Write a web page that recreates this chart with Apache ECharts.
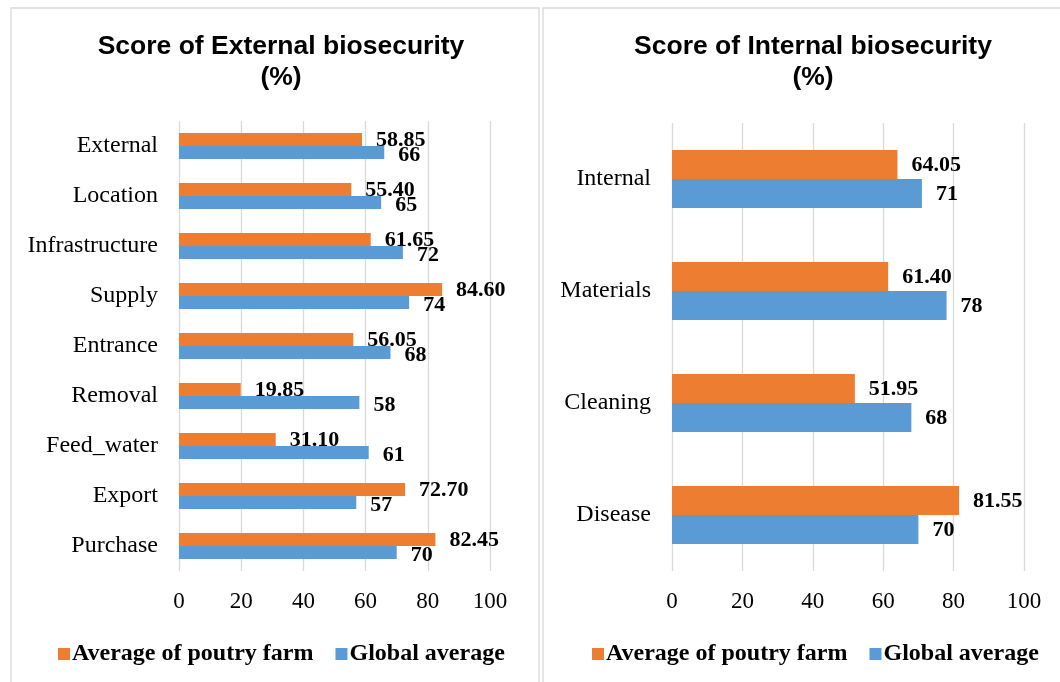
<!DOCTYPE html>
<html><head><meta charset="utf-8">
<script src="https://cdn.jsdelivr.net/npm/echarts@6/dist/echarts.min.js"></script>
<style>html,body{margin:0;padding:0;background:#fff}#c{width:1060px;height:682px}</style>
</head><body><div id="c"></div>
<script>
const extCategories = ['External','Location','Infrastructure','Supply','Entrance','Removal','Feed_water','Export','Purchase'];
const extFarm = [58.85,55.40,61.65,84.60,56.05,19.85,31.10,72.70,82.45];
const extGlobal = [66,65,72,74,68,58,61,57,70];
const intCategories = ['Internal','Materials','Cleaning','Disease'];
const intFarm = [64.05,61.40,51.95,81.55];
const intGlobal = [71,78,68,70];
const xTicks = [0,20,40,60,80,100];
const seriesNames = ['Average of poutry farm','Global average'];

const ORANGE = '#ED7D31', BLUE = '#5B9BD5', GRID = '#D9D9D9';
const serif = 'Liberation Serif';
const chart = echarts.init(document.getElementById('c'));

function valueAxis(gi){
  return {type:'value', gridIndex:gi, min:xTicks[0], max:xTicks[xTicks.length-1], interval:20,
    axisLine:{show:false}, axisTick:{show:false},
    axisLabel:{fontFamily:serif, fontSize:23, color:'#000', margin:19},
    splitLine:{lineStyle:{color:GRID, width:1.3}}};
}
function catAxis(gi, cats){
  return {type:'category', gridIndex:gi, data:cats, inverse:true,
    axisLine:{show:false}, axisTick:{show:false},
    axisLabel:{fontFamily:serif, fontSize:24, color:'#000', margin:21, lineHeight:28, verticalAlign:'middle', padding:[5,0,0,0]}};
}
function lbl(decimals, dy){
  return {show:true, position:'right', distance:14, offset:[0,dy], fontFamily:serif, fontWeight:'bold', fontSize:22, color:'#000',
    formatter:p=>decimals?p.value.toFixed(2):String(p.value)};
}
const legendText = {fontFamily:serif, fontWeight:'bold', fontSize:24, color:'#000', padding:[0,0,0,-3]};

chart.setOption({
  animation:false,
  graphic:[
    {type:'rect', shape:{x:11, y:8, width:528, height:690}, style:{fill:'none', stroke:GRID, lineWidth:1.3}, silent:true},
    {type:'rect', shape:{x:543, y:8, width:540, height:690}, style:{fill:'none', stroke:GRID, lineWidth:1.3}, silent:true}
  ],
  title:[
    {text:'Score of External biosecurity\n(%)', left:276, top:26, textAlign:'center',
      textStyle:{fontFamily:'Liberation Sans', fontWeight:'bold', fontSize:26.5, lineHeight:31, color:'#000'}},
    {text:'Score of Internal biosecurity\n(%)', left:808, top:26, textAlign:'center',
      textStyle:{fontFamily:'Liberation Sans', fontWeight:'bold', fontSize:26.5, lineHeight:31, color:'#000'}}
  ],
  legend:[
    {left:53, top:637, itemWidth:12, itemHeight:12, itemGap:22, icon:'rect',
      data:seriesNames, textStyle:legendText},
    {left:587, top:637, itemWidth:12, itemHeight:12, itemGap:22, icon:'rect',
      data:seriesNames, textStyle:legendText}
  ],
  grid:[
    {left:179, right:570, top:121, height:450},
    {left:672, right:36, top:123, height:448}
  ],
  xAxis:[valueAxis(0), valueAxis(1)],
  yAxis:[catAxis(0, extCategories), catAxis(1, intCategories)],
  series:[
    {name:seriesNames[0], type:'bar', xAxisIndex:0, yAxisIndex:0, data:extFarm, barWidth:13, barGap:'0%',
      itemStyle:{color:ORANGE}, label:lbl(true, 1)},
    {name:seriesNames[1], type:'bar', xAxisIndex:0, yAxisIndex:0, data:extGlobal, barWidth:13, barGap:'0%',
      itemStyle:{color:BLUE}, label:lbl(false, 3)},
    {name:seriesNames[0], type:'bar', xAxisIndex:1, yAxisIndex:1, data:intFarm, barWidth:29, barGap:'0%',
      itemStyle:{color:ORANGE}, label:lbl(true, 1)},
    {name:seriesNames[1], type:'bar', xAxisIndex:1, yAxisIndex:1, data:intGlobal, barWidth:29, barGap:'0%',
      itemStyle:{color:BLUE}, label:lbl(false, 1)}
  ]
});
</script></body></html>
